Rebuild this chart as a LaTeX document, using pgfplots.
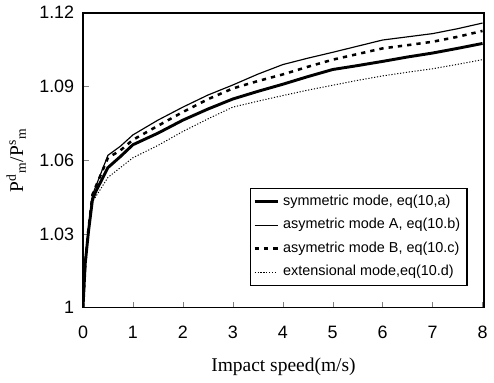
\documentclass[border=0pt]{standalone}
\usepackage{fontspec}
\setmainfont{Liberation Serif}
\newfontfamily\arialf{Liberation Sans}
\usepackage{pgfplots}
\pgfplotsset{compat=1.18}
\begin{document}
\begin{tikzpicture}
\begin{axis}[
  scale only axis, width=206pt, height=151.5pt,
  xmin=0, xmax=8.03, ymin=1, ymax=1.12,
  xtick={0,1,...,8}, ytick={1,1.03,1.06,1.09,1.12},
  yticklabels={1,1.03,1.06,1.09,1.12},
  tick align=inside, tick pos=left, major tick length=3pt,
  /pgf/number format/assume math mode=true,
  ticklabel style={font=\arialf\fontsize{9.2}{10}\selectfont},
  xticklabel style={yshift=-6pt},
  yticklabel style={xshift=-1pt},
  xlabel={Impact speed(m/s)},
  xlabel style={yshift=-3pt},
  ylabel={P$^{\mathrm{d}}{}_{\mathrm{m}}$/P$^{\mathrm{s}}{}_{\mathrm{m}}$},
  label style={font=\fontsize{10}{12}\selectfont},
  axis line style={line width=0.8pt},
  legend style={at={(0.959,0.073)}, anchor=south east, font=\arialf\fontsize{7.4}{9}\selectfont,
    draw=black, line width=0.6pt, inner sep=1.5pt, row sep=1.2pt},
  legend image code/.code={\draw[#1] (0pt,0pt) -- (0.42cm,0pt);},
  legend cell align=left,
]
\addplot[black, line width=1.5pt] coordinates {
(0,1.0) (0.045,1.018) (0.11,1.031) (0.19,1.044) (0.25,1.047) (0.5,1.057) (0.75,1.0615) (1,1.0663) (1.5,1.071) (2,1.0763) (2.5,1.0808) (3,1.0849) (3.5,1.088) (4,1.0909) (4.5,1.094) (5,1.0969) (5.5,1.0985) (6,1.1002) (6.5,1.102) (7,1.1036) (7.5,1.1055) (8,1.1075)};
\addlegendentry{symmetric mode, eq(10,a)}
\addplot[black, line width=0.6pt] coordinates {
(0,1.0) (0.045,1.018) (0.11,1.032) (0.19,1.046) (0.25,1.049) (0.5,1.062) (0.75,1.0657) (1,1.0703) (1.5,1.0763) (2,1.0816) (2.5,1.0865) (3,1.0906) (3.5,1.095) (4,1.0989) (4.5,1.1015) (5,1.1039) (5.5,1.1064) (6,1.1089) (6.5,1.1102) (7,1.1115) (7.5,1.1135) (8,1.1158)};
\addlegendentry{asymetric mode A, eq(10.b)}
\addplot[black, line width=1.3pt, dash pattern=on 2.2pt off 2.6pt] coordinates {
(0,1.0) (0.045,1.018) (0.11,1.032) (0.19,1.046) (0.25,1.049) (0.5,1.061) (0.75,1.064) (1,1.0683) (1.5,1.074) (2,1.0796) (2.5,1.0848) (3,1.0892) (3.5,1.0922) (4,1.0949) (4.5,1.098) (5,1.1009) (5.5,1.1032) (6,1.1055) (6.5,1.1068) (7,1.1082) (7.5,1.1102) (8,1.1126)};
\addlegendentry{asymetric mode B, eq(10.c)}
\addplot[black, line width=0.5pt, dash pattern=on 0.6pt off 0.9pt] coordinates {
(0,1.0) (0.045,1.018) (0.11,1.031) (0.19,1.043) (0.25,1.045) (0.5,1.053) (0.75,1.057) (1,1.061) (1.5,1.066) (2,1.0717) (2.5,1.0768) (3,1.0816) (3.5,1.084) (4,1.0863) (4.5,1.0885) (5,1.0905) (5.5,1.0925) (6,1.0943) (6.5,1.0958) (7,1.0972) (7.5,1.099) (8,1.1009)};
\addlegendentry{extensional mode,eq(10.d)}
\end{axis}
\end{tikzpicture}
\end{document}
